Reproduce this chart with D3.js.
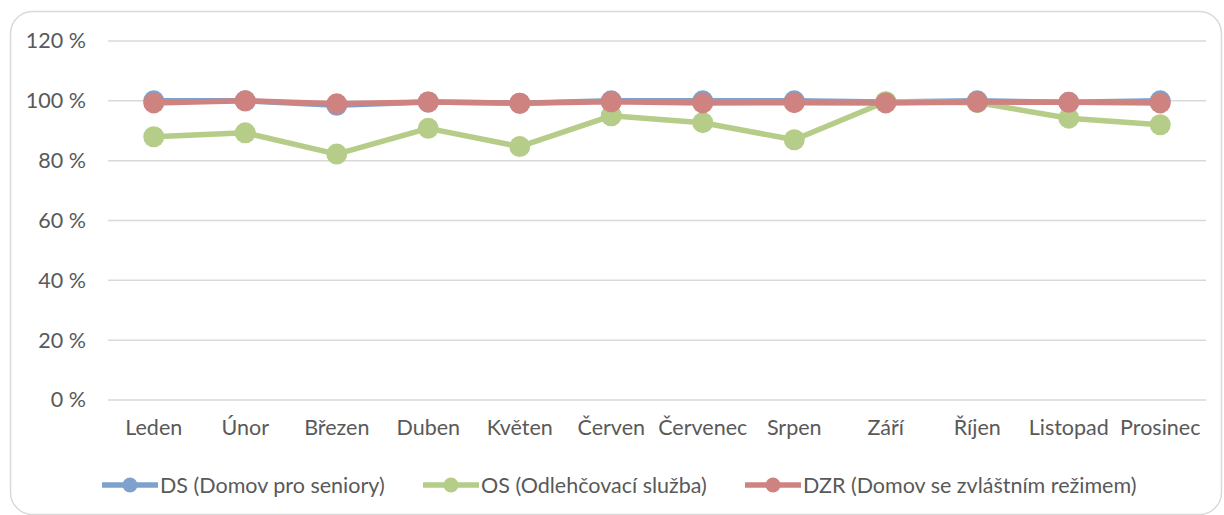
<!DOCTYPE html>
<html>
<head>
<meta charset="utf-8">
<script src="https://cdn.jsdelivr.net/npm/d3@7"></script>
<style>
  body { margin: 0; background: #fff; }
  text { font-family: Lato, "Open Sans", sans-serif; fill: #595959; }
</style>
</head>
<body>
<div id="chart"></div>
<script>
const months = ['Leden', 'Únor', 'Březen', 'Duben', 'Květen', 'Červen', 'Červenec', 'Srpen', 'Září', 'Říjen', 'Listopad', 'Prosinec'];
const dsValues = [100, 100, 98.5, 99.6, 99.2, 100, 100, 100, 99.6, 100, 99.5, 100];
const osValues = [88, 89.3, 82.2, 90.8, 84.7, 95, 92.7, 87, 99.7, 99.4, 94.2, 92];
const dzrValues = [99.3, 100, 99, 99.6, 99.2, 99.7, 99.3, 99.4, 99.3, 99.6, 99.5, 99.3];
const yTicks = [0, 20, 40, 60, 80, 100, 120];

const series = [
    { name: 'DS (Domov pro seniory)', color: '#7ea1cd', values: dsValues },
    { name: 'OS (Odlehčovací služba)', color: '#b5cd88', values: osValues },
    { name: 'DZR (Domov se zvláštním režimem)', color: '#cf8380', values: dzrValues },
];

const W = 1224, H = 515;
const margin = { left: 108, right: 18, top: 41, bottom: 115 };
const fontSize = '21.5px';

const svg = d3.select('#chart').append('svg')
    .attr('width', W)
    .attr('height', H);

// chart frame
svg.append('rect')
    .attr('x', 10.5).attr('y', 11.5)
    .attr('width', 1211).attr('height', 503)
    .attr('rx', 22)
    .attr('fill', 'none')
    .attr('stroke', '#d9d9d9')
    .attr('stroke-width', 1.5);

const x = d3.scaleBand()
    .domain(months)
    .range([margin.left, W - margin.right]);

const y = d3.scaleLinear()
    .domain([0, 120])
    .range([H - margin.bottom, margin.top]);

// gridlines
svg.append('g')
    .selectAll('line')
    .data(yTicks)
    .enter().append('line')
    .attr('x1', margin.left)
    .attr('x2', W - margin.right)
    .attr('y1', (d) => y(d))
    .attr('y2', (d) => y(d))
    .attr('stroke', '#d9d9d9')
    .attr('stroke-width', 1.5);

const yAxis = d3.axisLeft(y).tickValues(yTicks).tickFormat((d) => `${d} %`).tickSize(0).tickPadding(22);
svg.append('g')
    .attr('transform', `translate(${margin.left}, 0)`)
    .call(yAxis)
    .call((g) => g.select('.domain').remove())
    .selectAll('text')
    .style('font-size', fontSize)
    .style('font-family', 'Lato, sans-serif')
    .attr('fill', '#595959');

const xAxis = d3.axisBottom(x).tickSize(0).tickPadding(20);
svg.append('g')
    .attr('transform', `translate(0, ${y(0)})`)
    .call(xAxis)
    .call((g) => g.select('.domain').remove())
    .selectAll('text')
    .style('font-size', fontSize)
    .style('font-family', 'Lato, sans-serif')
    .attr('fill', '#595959');

const line = d3.line()
    .x((d, i) => x(months[i]) + x.bandwidth() / 2)
    .y((d) => y(d));

series.forEach((s) => {
    const g = svg.append('g');
    g.append('path')
        .datum(s.values)
        .attr('d', line)
        .attr('fill', 'none')
        .attr('stroke', s.color)
        .attr('stroke-width', 5.5)
        .attr('stroke-linejoin', 'round');
    g.selectAll('circle')
        .data(s.values)
        .enter().append('circle')
        .attr('cx', (d, i) => x(months[i]) + x.bandwidth() / 2)
        .attr('cy', (d) => y(d))
        .attr('r', 10.5)
        .attr('fill', s.color);
});

// legend
const legendX = [102, 423, 745];
const legend = svg.append('g').attr('transform', 'translate(0, 485)');
series.forEach((s, i) => {
    const lg = legend.append('g').attr('transform', `translate(${legendX[i]}, 0)`);
    lg.append('line')
        .attr('x1', 0).attr('x2', 56)
        .attr('stroke', s.color)
        .attr('stroke-width', 5.5);
    lg.append('circle')
        .attr('cx', 28).attr('r', 7.5)
        .attr('fill', s.color);
    lg.append('text')
        .attr('x', 58)
        .attr('dy', '0.35em')
        .style('font-size', fontSize)
        .text(s.name);
});
</script>
</body>
</html>
